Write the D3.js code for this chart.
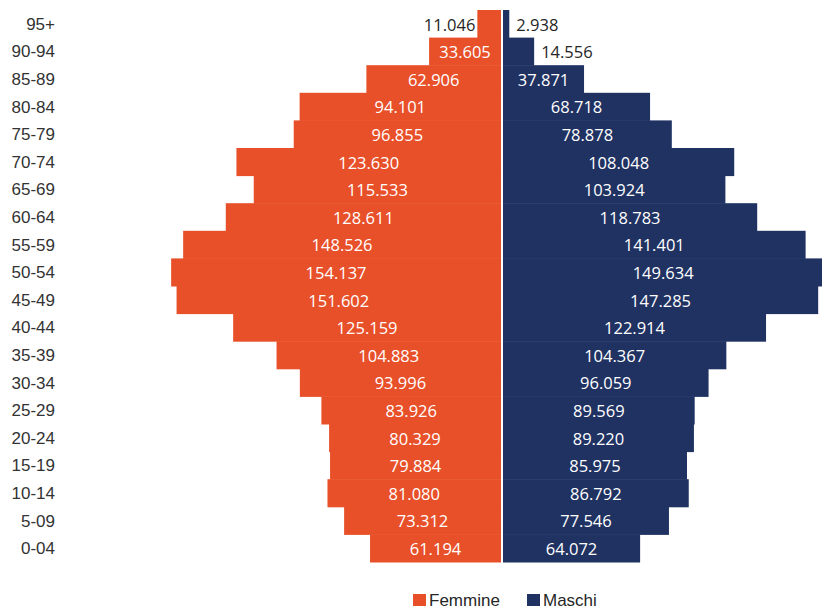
<!DOCTYPE html>
<html><head><meta charset="utf-8">
<script src="https://cdn.jsdelivr.net/npm/d3@7"></script>
<style>
html,body{margin:0;padding:0;background:#fff;}
svg{display:block;}
</style></head>
<body>
<svg id="chart" width="822" height="610"></svg>
<script>
const categories = ["95+","90-94","85-89","80-84","75-79","70-74","65-69","60-64","55-59","50-54","45-49","40-44","35-39","30-34","25-29","20-24","15-19","10-14","5-09","0-04"];
const femmine = [11046,33605,62906,94101,96855,123630,115533,128611,148526,154137,151602,125159,104883,93996,83926,80329,79884,81080,73312,61194];
const maschi  = [2938,14556,37871,68718,78878,108048,103924,118783,141401,149634,147285,122914,104367,96059,89569,89220,85975,86792,77546,64072];
const seriesNames = ["Femmine","Maschi"];
const colors = ["#E8502A","#1F3262"];

const svg = d3.select("#chart");
const centerL = 501, centerR = 503;
const x = d3.scaleLinear().domain([0,160000]).range([0,342.4]);
const y = d3.scaleBand().domain(categories).range([10,562]).padding(0);
const fmt = d3.formatLocale({decimal:",",thousands:".",grouping:[3],currency:["€",""]}).format(",d");

// category axis
const axis = d3.axisLeft(y).tickSize(0).tickPadding(0);
const gAxis = svg.append("g").attr("transform","translate(55,0)").call(axis);
gAxis.select(".domain").remove();
gAxis.selectAll("text").attr("font-family","'Liberation Sans', Arial, sans-serif").attr("font-size","17px").attr("fill","#333").attr("dy","0.35em");

// bars
svg.append("g").selectAll("rect").data(femmine).join("rect")
  .attr("x",d=>centerL - x(d)).attr("width",d=>x(d))
  .attr("y",(d,i)=>y(categories[i])).attr("height",y.bandwidth()+0.5)
  .attr("fill",colors[0]);
svg.append("g").selectAll("rect").data(maschi).join("rect")
  .attr("x",centerR).attr("width",d=>x(d))
  .attr("y",(d,i)=>y(categories[i])).attr("height",y.bandwidth()+0.5)
  .attr("fill",colors[1]);

// labels
function addLabels(data, side){
  const g = svg.append("g").attr("font-family","'Open Sans', Lato, sans-serif").attr("font-size","16.5px");
  data.forEach((d,i)=>{
    const w = x(d);
    const cy = y(categories[i]) + y.bandwidth()/2 + 1;
    const t = g.append("text").text(fmt(d)).attr("y",cy).attr("dy","0.35em");
    const tw = t.node().getComputedTextLength();
    if (tw + 6 <= w){
      const cx = side==="L" ? centerL - w/2 : centerR + w/2;
      t.attr("x",cx).attr("text-anchor","middle").attr("fill","#fff");
    } else if (side==="L"){
      t.attr("x",centerL - w - 2).attr("text-anchor","end").attr("fill","#262626");
    } else {
      t.attr("x",centerR + w + 7).attr("text-anchor","start").attr("fill","#262626");
    }
  });
}
addLabels(femmine,"L");
addLabels(maschi,"R");

// legend
const legX = [413,527];
const leg = svg.append("g");
seriesNames.forEach((n,i)=>{
  leg.append("rect").attr("x",legX[i]).attr("y",594).attr("width",13).attr("height",12).attr("fill",colors[i]);
  leg.append("text").attr("x",legX[i]+16).attr("y",606).text(n)
    .attr("font-family","'Liberation Sans', Arial, sans-serif").attr("font-size","17px").attr("fill","#262626");
});
</script>
</body></html>
